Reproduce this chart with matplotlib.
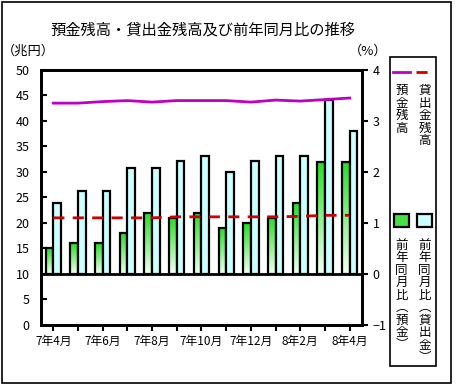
import numpy as np
import matplotlib.pyplot as plt
from matplotlib.patches import Rectangle
from matplotlib.colors import LinearSegmentedColormap

plt.rcParams['font.family'] = ['Noto Sans CJK JP', 'DejaVu Sans']

# データ
months = ['7年4月', '7年5月', '7年6月', '7年7月', '7年8月', '7年9月', '7年10月',
          '7年11月', '7年12月', '8年1月', '8年2月', '8年3月', '8年4月']
deposit_bal = [43.5, 43.5, 43.8, 44.0, 43.7, 44.0, 44.0, 44.0, 43.7, 44.1, 43.9, 44.2, 44.5]
loan_bal = [21.0, 21.0, 21.0, 21.0, 21.0, 21.2, 21.2, 21.2, 21.2, 21.2, 21.3, 21.5, 21.5]
deposit_yoy = [0.5, 0.6, 0.6, 0.8, 1.2, 1.1, 1.2, 0.9, 1.0, 1.1, 1.4, 2.2, 2.2]
loan_yoy = [1.4, 1.63, 1.63, 2.08, 2.08, 2.22, 2.32, 2.0, 2.22, 2.32, 2.32, 3.42, 2.8]

fig = plt.figure(figsize=(4.6, 3.91), dpi=100)
# 外枠
fig.patches.append(Rectangle((0.004, 0.02), 0.977, 0.975, transform=fig.transFigure,
                             fill=False, lw=1.2, ec='black'))

ax = fig.add_axes([0.089, 0.169, 0.698, 0.652])
ax2 = ax.twinx()

x = np.arange(len(months))
w = 0.31

# 前年同月比の棒（右軸）
gbars = ax2.bar(x - w / 2, deposit_yoy, w, color='none', edgecolor='black', lw=1.6, zorder=3)
ax2.bar(x + w / 2, loan_yoy, w, color='#ccffff', edgecolor='black', lw=1.6, zorder=3)

# 緑の棒をグラデーションで塗る
grad = np.linspace(1, 0, 100).reshape(-1, 1)
gcmap = LinearSegmentedColormap.from_list('g', ['#f4fff4', '#22e022'])
for b in gbars:
    x0, y0 = b.get_x(), b.get_y()
    im = ax2.imshow(grad, cmap=gcmap, aspect='auto', zorder=2.9,
                    extent=[x0, x0 + b.get_width(), y0, y0 + b.get_height()])
    im.set_clip_path(b)

ax2.axhline(0, color='black', lw=2, zorder=4)

# 残高の線（左軸）
ax.plot(x, deposit_bal, color='#c000c0', lw=2, zorder=5)
ax.plot(x, loan_bal, color='#cc0000', lw=2, dashes=(4, 3), zorder=5)
ax.set_zorder(ax2.get_zorder() + 1)
ax.patch.set_visible(False)

ax.set_xlim(-0.5, len(months) - 0.5)
ax.set_ylim(0, 50)
ax.set_yticks(range(0, 51, 5))
ax2.set_ylim(-1, 4)
ax2.set_yticks(range(-1, 5))
ax.set_xticks(x)
ax.set_xticklabels([m if i % 2 == 0 else '' for i, m in enumerate(months)], fontsize=8.5)

ax.tick_params(axis='y', direction='in', length=4, width=1.5, labelsize=9, pad=8)
ax.tick_params(axis='x', direction='out', length=4, width=1.5, pad=3)
ax2.tick_params(axis='y', direction='out', length=4, width=1.5, labelsize=9)
for a in (ax, ax2):
    for s in a.spines.values():
        s.set_linewidth(2)

fig.text(0.44, 0.922, '預金残高・貸出金残高及び前年同月比の推移', ha='center', va='center', fontsize=11)
fig.text(0.062, 0.87, '（兆円）', ha='center', va='center', fontsize=9.5)
fig.text(0.8, 0.87, '（%）', ha='center', va='center', fontsize=9.5)

# 凡例（縦書き）
fig.patches.append(Rectangle((0.848, 0.064), 0.1, 0.79, transform=fig.transFigure,
                             fill=False, lw=1.2, ec='black'))
fig.add_artist(plt.Line2D([0.855, 0.891], [0.815, 0.815], color='#c000c0', lw=2))
fig.add_artist(plt.Line2D([0.905, 0.94], [0.815, 0.815], color='#cc0000', lw=2, dashes=(4, 3)))
fig.patches.append(Rectangle((0.857, 0.42), 0.032, 0.032, transform=fig.transFigure,
                             fc='#44e044', ec='black', lw=1.6))
fig.patches.append(Rectangle((0.907, 0.42), 0.032, 0.032, transform=fig.transFigure,
                             fc='#ccffff', ec='black', lw=1.6))

def vtext(xp, yp, s):
    fig.text(xp, yp, '\n'.join(s), ha='center', va='top', fontsize=9, linespacing=0.95)

vtext(0.873, 0.785, '預金残高')
vtext(0.923, 0.785, '貸出金残高')
vtext(0.873, 0.39, '前年同月比︵預金︶')
vtext(0.923, 0.39, '前年同月比︵貸出金︶')

fig.savefig('out.png', dpi=100)
